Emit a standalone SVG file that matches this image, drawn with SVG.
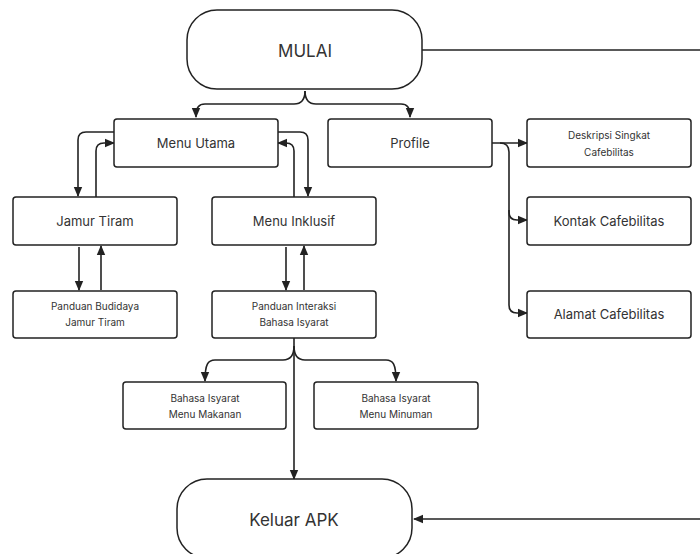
<svg xmlns="http://www.w3.org/2000/svg" width="700" height="554" viewBox="0 0 700 554">
<defs>
<marker id="ah" markerWidth="10" markerHeight="10" refX="9" refY="5" orient="auto" markerUnits="userSpaceOnUse">
<path d="M0,0.8 L10,5 L0,9.2 Z" fill="#222"/>
</marker>
<style>
.box{fill:#fff;stroke:#222;stroke-width:1.5}
.c{fill:none;stroke:#222;stroke-width:1.6}
.a{marker-end:url(#ah)}
text{font-family:Inter,"Noto Sans","Liberation Sans",sans-serif;fill:#333;text-anchor:middle;dominant-baseline:central}
.big{font-size:17px}
.md{font-size:13px}
.sm{font-size:10px}
</style>
</defs>
<rect width="700" height="554" fill="#fff"/>
<g id="connectors">
<path class="c" d="M422,50 H700"/>
<path class="c a" d="M700,519 H414"/>
<path class="c a" d="M305,91 C305,100 301,104 294,104 H205 C199,104 196,107 196,117"/>
<path class="c a" d="M305,91 C305,100 309,104 316,104 H401 C407,104 410,107 410,117"/>
<path class="c a" d="M114,132 H86 Q78,132 78,140 V196"/>
<path class="c a" d="M96,197 V151 Q96,143 104,143 H114"/>
<path class="c a" d="M278,132 H300 Q308,132 308,140 V196"/>
<path class="c a" d="M294,197 V151 Q294,143 286,143 H278"/>
<path class="c a" d="M79,247 V290"/>
<path class="c a" d="M101,290 V246"/>
<path class="c a" d="M286,247 V290"/>
<path class="c a" d="M304,290 V246"/>
<path class="c a" d="M492,143 H527"/>
<path class="c a" d="M500,143 Q509,143 509,152 V212 Q509,220 517,220 H527"/>
<path class="c a" d="M509,210 V305 Q509,313 517,313 H527"/>
<path class="c a" d="M294,338 V479"/>
<path class="c a" d="M294,346 C294,355 290,360 283,360 H215 C208,360 205,364 205,381"/>
<path class="c a" d="M294,346 C294,355 298,360 305,360 H386 C393,360 396,364 396,381"/>
</g>
<g id="mulai"><rect class="box" x="187" y="10" width="235" height="79" rx="30"/><text class="big" x="305" y="51">MULAI</text></g>
<g id="menu-utama"><rect class="box" x="114" y="119" width="164" height="48" rx="3"/><text class="md" x="196" y="143">Menu Utama</text></g>
<g id="profile"><rect class="box" x="328" y="119" width="164" height="48" rx="3"/><text class="md" x="410" y="143">Profile</text></g>
<g id="deskripsi"><rect class="box" x="527" y="119" width="164" height="48" rx="3"/><text class="sm" x="609" y="135">Deskripsi Singkat</text><text class="sm" x="609" y="152">Cafebilitas</text></g>
<g id="jamur-tiram"><rect class="box" x="13" y="197" width="164" height="48" rx="3"/><text class="md" x="95" y="221">Jamur Tiram</text></g>
<g id="menu-inklusif"><rect class="box" x="212" y="197" width="164" height="48" rx="3"/><text class="md" x="294" y="221">Menu Inklusif</text></g>
<g id="kontak"><rect class="box" x="527" y="197" width="164" height="48" rx="3"/><text class="md" x="609" y="221">Kontak Cafebilitas</text></g>
<g id="panduan-budidaya"><rect class="box" x="13" y="291" width="164" height="47" rx="3"/><text class="sm" x="95" y="306">Panduan Budidaya</text><text class="sm" x="95" y="322">Jamur Tiram</text></g>
<g id="panduan-interaksi"><rect class="box" x="212" y="291" width="164" height="47" rx="3"/><text class="sm" x="294" y="306">Panduan Interaksi</text><text class="sm" x="294" y="322">Bahasa Isyarat</text></g>
<g id="alamat"><rect class="box" x="527" y="291" width="164" height="47" rx="3"/><text class="md" x="609" y="314">Alamat Cafebilitas</text></g>
<g id="makanan"><rect class="box" x="123" y="382" width="163" height="47" rx="3"/><text class="sm" x="205" y="398">Bahasa Isyarat</text><text class="sm" x="205" y="414">Menu Makanan</text></g>
<g id="minuman"><rect class="box" x="314" y="382" width="164" height="47" rx="3"/><text class="sm" x="396" y="398">Bahasa Isyarat</text><text class="sm" x="396" y="414">Menu Minuman</text></g>
<g id="keluar"><rect class="box" x="177" y="479" width="235" height="79" rx="30"/><text class="big" x="294" y="520">Keluar APK</text></g>
</svg>
